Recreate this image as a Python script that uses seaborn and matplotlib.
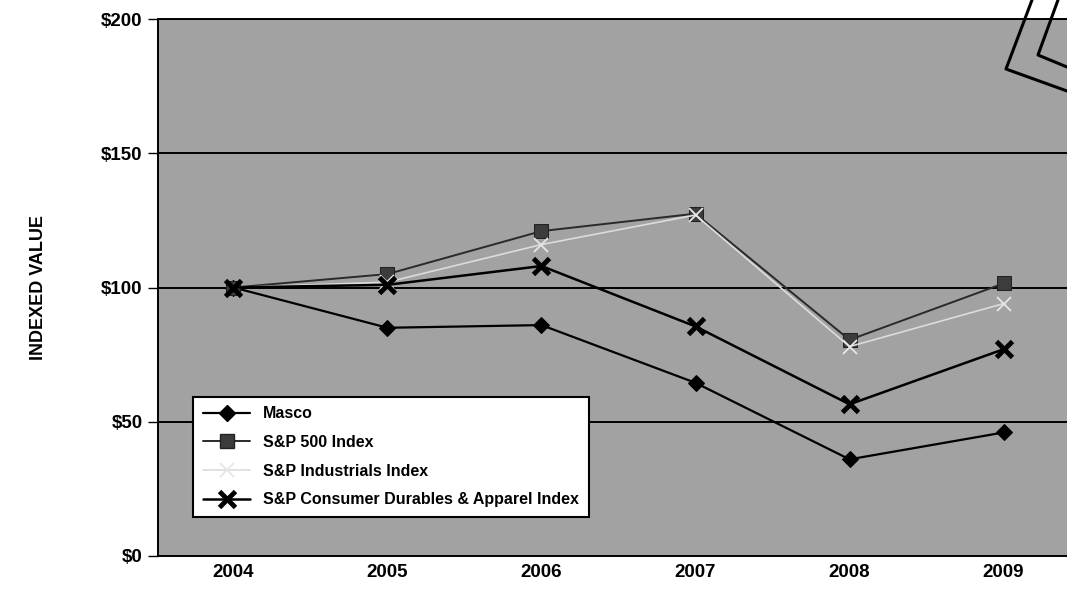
import matplotlib
matplotlib.use("Agg")
import matplotlib.pyplot as plt
import seaborn as sns
import pandas as pd
from matplotlib.lines import Line2D

# values
years = ["2004", "2005", "2006", "2007", "2008", "2009"]
masco = [100, 85, 86, 64.5, 36, 46]
sp500 = [100, 105, 121, 127.5, 80.5, 101.5]
sp_industrials = [100, 102, 116, 127, 78, 94]
sp_consumer = [100, 101, 108, 85.5, 56.5, 77]
y_ticks = [0, 50, 100, 150, 200]

sns.set_theme(style="white")
plt.rcParams['font.family'] = ['Liberation Sans', 'DejaVu Sans']
plt.rcParams['font.weight'] = 'bold'
plt.rcParams['text.color'] = 'black'
plt.rcParams['axes.labelcolor'] = 'black'
plt.rcParams['xtick.color'] = 'black'
plt.rcParams['ytick.color'] = 'black'

fig = plt.figure(figsize=(10.67, 6.01), dpi=100)
# axes runs past the right edge of the page, as in the scan
ax = fig.add_axes([158 / 1067, 45 / 601, 921 / 1067, 537 / 601])
ax.set_facecolor("#a2a2a2")

# horizontal gridlines
for v in y_ticks[1:]:
    ax.axhline(v, color="black", lw=1.4, zorder=1)

styles = [
    ("Masco", masco, dict(color="black", marker="D", markersize=8, lw=1.6,
                          markerfacecolor="black", markeredgecolor="black")),
    ("S&P 500 Index", sp500, dict(color="#2a2a2a", marker="s", markersize=10, lw=1.4,
                                  markerfacecolor="#3c3c3c", markeredgecolor="#222222")),
    ("S&P Industrials Index", sp_industrials, dict(color="#dcdcdc", marker="x", markersize=10,
                                                   lw=1.2, markeredgewidth=1.3,
                                                   markeredgecolor="#e6e6e6")),
    ("S&P Consumer Durables & Apparel Index", sp_consumer, dict(color="black", marker="x",
                                                                markersize=11, lw=1.8,
                                                                markeredgewidth=3.5,
                                                                markeredgecolor="black")),
]

draw_order = [2, 3, 0, 1]
for i in draw_order:
    name, vals, kw = styles[i]
    df = pd.DataFrame({"year": years, "value": vals})
    sns.lineplot(data=df, x="year", y="value", ax=ax, zorder=3 + i, **kw)

ax.set_xlim(-0.49, 5.49)
ax.set_ylim(0, 200)
ax.set_yticks(y_ticks)
ax.set_yticklabels(["$" + str(v) for v in y_ticks], fontsize=13.5, fontweight="bold")
ax.set_xticks(range(len(years)))
ax.set_xticklabels(years, fontsize=13.5, fontweight="bold")
ax.tick_params(axis="x", length=0, pad=6)
ax.tick_params(axis="y", length=7, width=1, direction="out", left=True, pad=4, color="black")
ax.set_xlabel("")
ax.set_ylabel("INDEXED VALUE", fontsize=13, fontweight="bold", labelpad=39)
for s in ["left", "bottom", "top"]:
    ax.spines[s].set_visible(True)
    ax.spines[s].set_color("black")
    ax.spines[s].set_linewidth(1.4)
ax.spines["right"].set_visible(False)

handles = []
for name, vals, kw in styles:
    handles.append(Line2D([0], [0], label=name, **kw))
leg = ax.legend(handles=handles, loc="lower left", bbox_to_anchor=(0.038, 0.073),
                borderaxespad=0, frameon=True, fancybox=False, framealpha=1,
                edgecolor="black", prop={"weight": "bold", "size": 11.5},
                handlelength=3.0, borderpad=0.6, labelspacing=0.85)
leg.get_frame().set_linewidth(1.5)

# fragment of a drawing cut off at the top right of the scan
W, H = 1067, 601
def fig_line(pts, lw):
    xs = [p[0] / W for p in pts]
    ys = [1 - p[1] / H for p in pts]
    fig.add_artist(Line2D(xs, ys, color="black", lw=lw, transform=fig.transFigure))

fig_line([(1032, 0), (1006, 69), (1067, 91)], 2.2)
fig_line([(1058, 0), (1038, 55), (1067, 67)], 2.2)

fig.savefig("out.png", dpi=100)
